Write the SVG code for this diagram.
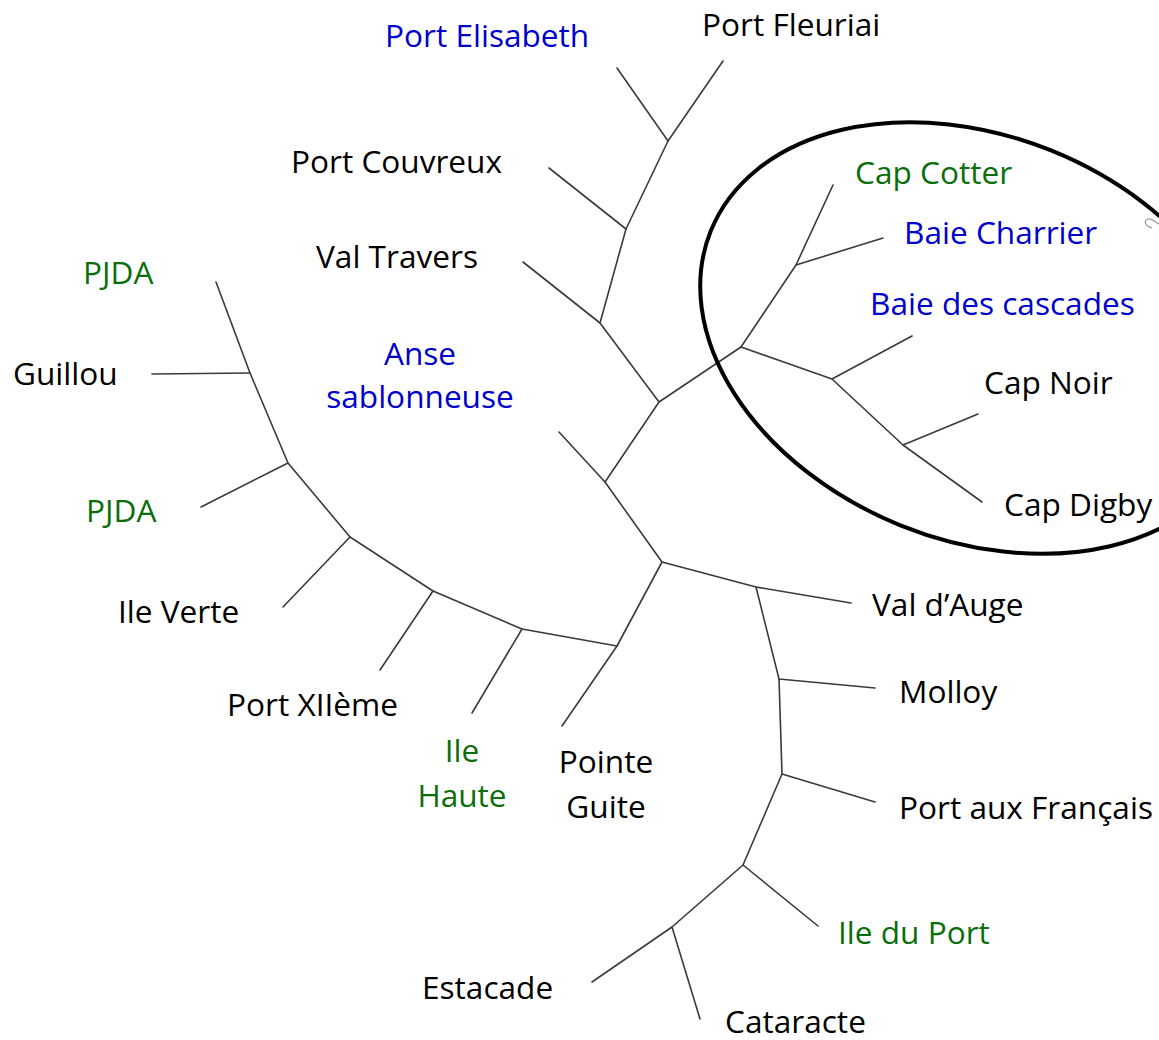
<svg xmlns="http://www.w3.org/2000/svg" width="1159" height="1040" viewBox="0 0 1159 1040">
<style>
text{font-family:"Open Sans","Noto Sans",sans-serif;font-size:31.6px;fill:#000}
.b{fill:#0000cc}
.g{fill:#0a6e0a}
.e{stroke:#3a3a3a;stroke-width:1.6;fill:none;stroke-linecap:round;stroke-linejoin:round}
.m{text-anchor:middle}
</style>
<rect width="1159" height="1040" fill="#fff"/>
<g id="connectors" class="e">
<path d="M617,68 L668,141 L723,61"/>
<path d="M668,141 L626,229 L600,323 L659,402 L741,347"/>
<path d="M549,168 L626,229"/>
<path d="M523,262 L600,323"/>
<path d="M659,402 L605,482 L662,562 L617,646 L522,629 L433,591 L350,537 L288,463 L250,373 L216,282"/>
<path d="M559,432 L605,482"/>
<path d="M152,374 L250,373"/>
<path d="M201,507 L288,463"/>
<path d="M283,607 L350,537"/>
<path d="M380,670 L433,591"/>
<path d="M472,713 L522,629"/>
<path d="M562,726 L617,646"/>
<path d="M662,562 L756,587 L851,603"/>
<path d="M756,587 L779,679 L875,688"/>
<path d="M779,679 L782,774 L875,802"/>
<path d="M782,774 L743,865 L818,926"/>
<path d="M743,865 L672,927 L592,982"/>
<path d="M672,927 L700,1019"/>
<path d="M741,347 L796,265 L833,185"/>
<path d="M796,265 L883,238"/>
<path d="M741,347 L832,379 L912,336"/>
<path d="M832,379 L903,445 L978,414"/>
<path d="M903,445 L982,502"/>
</g>
<g id="cluster">
<ellipse cx="976" cy="338" rx="286" ry="202" transform="rotate(22 976 338)" fill="none" stroke="#000" stroke-width="4"/>
<path d="M1152,228 C1145,226 1143,221 1148,219 C1152,218 1155,222 1159,224" fill="none" stroke="#999" stroke-width="1.2"/>
</g>
<g id="n-port-elisabeth"><text class="b" x="385" y="47">Port Elisabeth</text></g>
<g id="n-port-fleuriai"><text x="702" y="36">Port Fleuriai</text></g>
<g id="n-port-couvreux"><text x="291" y="173">Port Couvreux</text></g>
<g id="n-val-travers"><text x="316" y="268">Val Travers</text></g>
<g id="n-cap-cotter"><text class="g" x="855" y="184">Cap Cotter</text></g>
<g id="n-baie-charrier"><text class="b" x="904" y="244">Baie Charrier</text></g>
<g id="n-baie-des-cascades"><text class="b" x="870" y="315">Baie des cascades</text></g>
<g id="n-cap-noir"><text x="984" y="394">Cap Noir</text></g>
<g id="n-cap-digby"><text x="1004" y="516">Cap Digby</text></g>
<g id="n-pjda-1"><text class="g" x="83" y="284">PJDA</text></g>
<g id="n-guillou"><text x="13" y="385">Guillou</text></g>
<g id="n-pjda-2"><text class="g" x="86" y="522">PJDA</text></g>
<g id="n-anse-sablonneuse"><text class="b m" x="420" y="365">Anse</text><text class="b m" x="420" y="408">sablonneuse</text></g>
<g id="n-ile-verte"><text x="118" y="623">Ile Verte</text></g>
<g id="n-port-xiieme"><text x="227" y="716">Port XIIème</text></g>
<g id="n-ile-haute"><text class="g m" x="462" y="762">Ile</text><text class="g m" x="462" y="807">Haute</text></g>
<g id="n-pointe-guite"><text class="m" x="606" y="773">Pointe</text><text class="m" x="606" y="818">Guite</text></g>
<g id="n-val-dauge"><text x="872" y="616">Val d’Auge</text></g>
<g id="n-molloy"><text x="899" y="703">Molloy</text></g>
<g id="n-port-aux-francais"><text x="899" y="819">Port aux Français</text></g>
<g id="n-ile-du-port"><text class="g" x="838" y="944">Ile du Port</text></g>
<g id="n-estacade"><text x="422" y="999">Estacade</text></g>
<g id="n-cataracte"><text x="725" y="1033">Cataracte</text></g>
</svg>
